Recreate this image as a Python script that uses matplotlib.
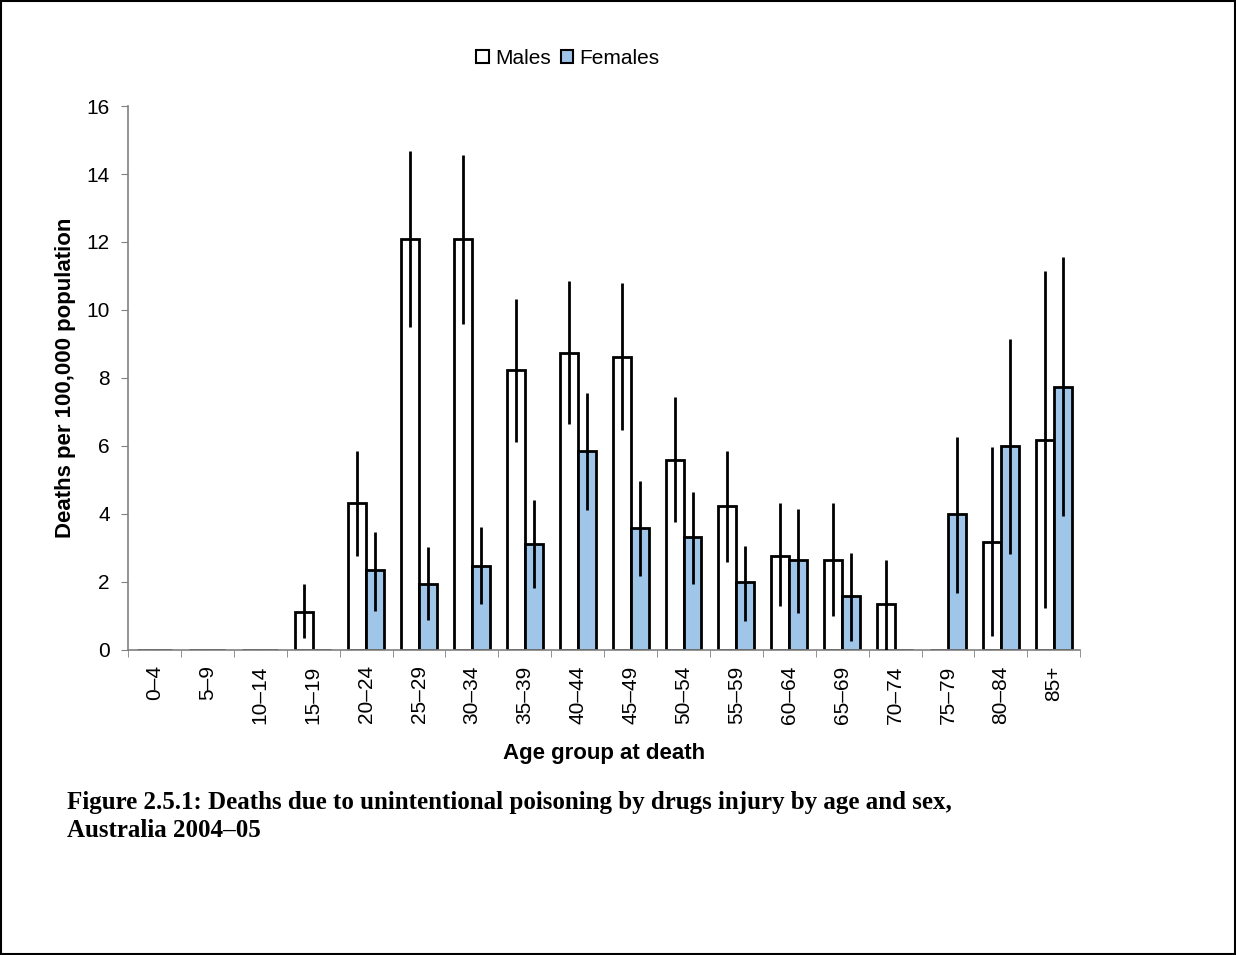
import matplotlib
matplotlib.use('Agg')
import matplotlib.pyplot as plt
import numpy as np

ages = ['0–4', '5–9', '10–14', '15–19', '20–24', '25–29', '30–34', '35–39', '40–44',
        '45–49', '50–54', '55–59', '60–64', '65–69', '70–74', '75–79', '80–84', '85+']

males = [0, 0, 0, 1.13, 4.31, 12.08, 12.08, 8.24, 8.73,
         8.61, 5.60, 4.24, 2.77, 2.65, 1.36, 0, 3.18, 6.19]
males_lo = [0, 0, 0, 0.35, 2.76, 9.49, 9.60, 6.13, 6.65,
            6.47, 3.76, 2.58, 1.28, 0.99, 0.0, 0, 0.40, 1.23]
males_hi = [0, 0, 0, 1.95, 5.84, 14.68, 14.57, 10.33, 10.84,
            10.80, 7.44, 5.84, 4.32, 4.32, 2.65, 0, 5.97, 11.15]

females = [0, 0, 0, 0, 2.36, 1.95, 2.47, 3.13, 5.84,
           3.60, 3.31, 2.00, 2.65, 1.59, 0, 4.01, 6.01, 7.73]
females_lo = [0, 0, 0, 0, 1.16, 0.87, 1.34, 1.82, 4.11,
              2.17, 1.93, 0.86, 1.10, 0.27, 0, 1.69, 2.81, 3.94]
females_hi = [0, 0, 0, 0, 3.48, 3.02, 3.61, 4.42, 7.56,
              4.96, 4.66, 3.07, 4.14, 2.84, 0, 6.25, 9.15, 11.57]

plt.rcParams['font.family'] = ['Liberation Sans', 'DejaVu Sans']

fig = plt.figure(figsize=(12.36, 9.55), dpi=100)
ax = fig.add_axes([0.1036, 0.3194, 0.7704, 0.5696])

x = np.arange(len(ages))
w = 0.34
m = np.array(males)
f = np.array(females)

ax.bar(x - w / 2, m, w, color='white', edgecolor='black', linewidth=2, label='Males', zorder=2)
ax.bar(x + w / 2, f, w, color='#9fc5e8', edgecolor='black', linewidth=2, label='Females', zorder=2)

# confidence intervals, no caps
has_m = m > 0
has_f = f > 0
ax.vlines((x - w / 2)[has_m], np.array(males_lo)[has_m], np.array(males_hi)[has_m],
          color='black', linewidth=2, zorder=3)
ax.vlines((x + w / 2)[has_f], np.array(females_lo)[has_f], np.array(females_hi)[has_f],
          color='black', linewidth=2, zorder=3)

ax.set_xlim(-0.5, len(ages) - 0.5)
ax.set_ylim(0, 16)
ax.set_yticks(range(0, 17, 2))
ax.set_xticks(x)
ax.set_xticklabels(ages, rotation=90, fontsize=15)
ax.set_xticks(np.arange(-0.5, len(ages), 1), minor=True)
ax.tick_params(axis='x', which='major', length=0, pad=11)
ax.tick_params(axis='x', which='minor', length=5, color='#808080')
ax.tick_params(axis='y', labelsize=15, length=5, color='#808080', pad=8)

for s in ['top', 'right']:
    ax.spines[s].set_visible(False)
for s in ['left', 'bottom']:
    ax.spines[s].set_color('#808080')
    ax.spines[s].set_linewidth(1.2)

ax.set_ylabel('Deaths per 100,000 population', fontsize=16, fontweight='bold', labelpad=8)
ax.set_xlabel('Age group at death', fontsize=16, fontweight='bold', labelpad=14)

leg = ax.legend(loc='center', bbox_to_anchor=(0.462, 1.087), ncol=2, frameon=False,
                fontsize=15, handlelength=0.6, handleheight=0.6, handletextpad=0.3,
                columnspacing=0.5)
for h in leg.legend_handles:
    h.set_linewidth(1.5)

fig.text(0.054, 0.145, 'Figure 2.5.1: Deaths due to unintentional poisoning by drugs injury by age and sex,\nAustralia 2004–05',
         fontsize=18, fontweight='bold', family='Liberation Serif', va='center', linespacing=1.3)

# border around the whole figure
fig.patches.append(plt.Rectangle((0.001, 0.001), 0.998, 0.998, transform=fig.transFigure,
                                 fill=False, edgecolor='black', linewidth=1.5))

fig.savefig('out.png', dpi=100)
